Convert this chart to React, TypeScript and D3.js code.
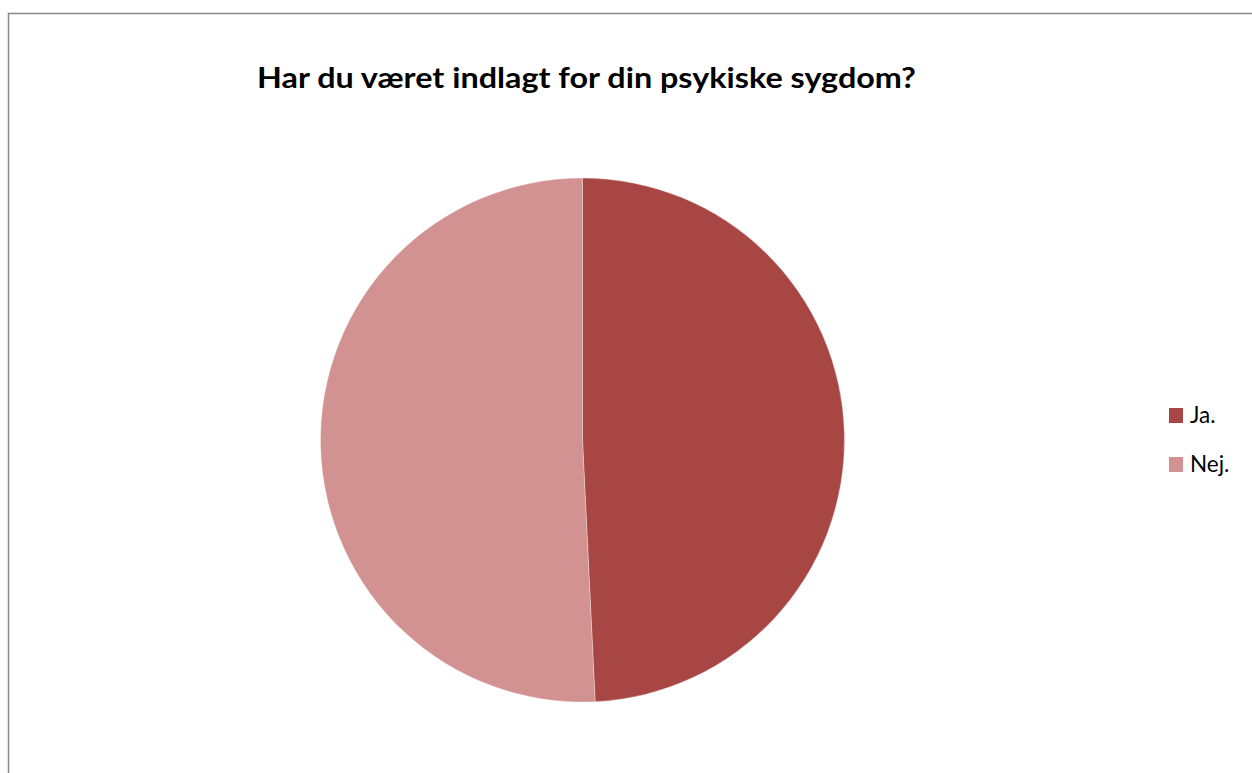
import React from "react";
import * as d3 from "d3";

const categories = ["Ja.", "Nej."];
const values = [32, 33];
const colors = ["#A84644", "#D19291"];
const title = "Har du været indlagt for din psykiske sygdom?";

export default function App() {
  const W = 1252, H = 773;
  const cx = 582.5, cy = 440, r = 262;
  const pie = d3.pie<number>().sort(null).value((d) => d)(values);
  const arc = d3.arc<d3.PieArcDatum<number>>().innerRadius(0).outerRadius(r);
  return (
    <svg width={W} height={H} style={{ position: "absolute", left: 0, top: 0, background: "#fff" }}>
      <rect x={8.5} y={13.5} width={W + 20} height={H + 20} fill="#fff" stroke="#888" strokeWidth={1.5} />
      <text x={257} y={88} textLength={659} lengthAdjust="spacingAndGlyphs" fontFamily="Lato, 'Open Sans', sans-serif" fontWeight="bold" fontSize={29} fill="#000">
        {title}
      </text>
      <g transform={`translate(${cx},${cy})`}>
        {pie.map((p, i) => (
          <path key={i} d={arc(p) as string} fill={colors[i]} stroke="#fff" strokeWidth={0.5} strokeOpacity={0.6} />
        ))}
      </g>
      {categories.map((c, i) => (
        <g key={c} transform={`translate(1169,${408 + i * 49})`}>
          <rect width={14} height={15} fill={colors[i]} />
          <text x={21} y={15} fontFamily="Lato, 'Open Sans', sans-serif" fontSize={22.5} fill="#000">{c}</text>
        </g>
      ))}
    </svg>
  );
}
